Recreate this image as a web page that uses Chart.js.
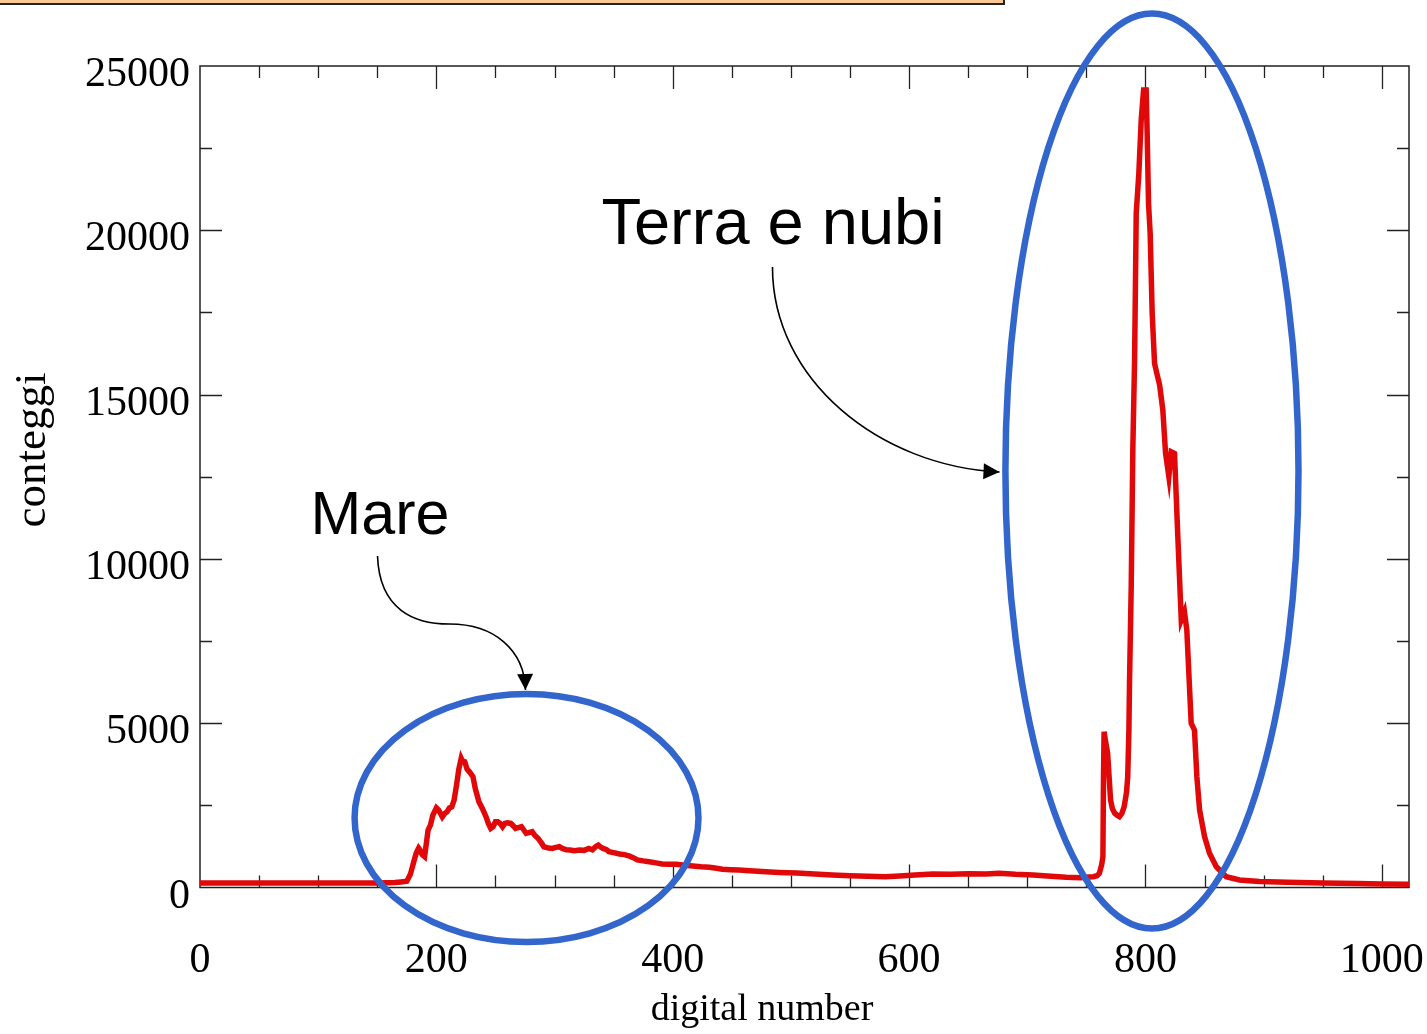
<!DOCTYPE html>
<html>
<head>
<meta charset="utf-8">
<script src="https://cdn.jsdelivr.net/npm/chart.js@4.4.0/dist/chart.umd.min.js"></script>
<style>
html, body { margin: 0; padding: 0; background: #fff; }
#wrap { position: relative; width: 1427px; height: 1034px; }
</style>
</head>
<body>
<div id="wrap"><canvas id="histo" width="1427" height="1034"></canvas></div>
<script>
// Histogram of the image: digital number (bin) vs counts
const digitalNumbers = [
    0, 50, 100, 150, 165, 170, 175, 178, 181, 183, 185, 186, 188, 190, 191, 193, 195, 197,
    200, 202, 205, 207, 209, 211, 213, 215, 217, 219, 221, 222, 224, 226, 228, 231, 233, 236,
    239, 242, 244, 246, 248, 250, 252, 254, 256, 258, 260, 263, 265, 267, 270, 272, 274, 276,
    279, 281, 283, 286, 289, 291, 295, 298, 301, 304, 307, 310, 313, 317, 321, 325, 329, 332,
    335, 337, 339, 341, 344, 346, 350, 355, 359, 363, 367, 370, 375, 380, 386, 391, 397, 403,
    410, 417, 424, 431, 437, 442, 449, 456, 465, 479, 490, 505, 520, 535, 550, 565, 580, 592,
    605, 620, 635, 650, 665, 676, 690, 705, 720, 733, 745, 752, 756, 759, 761, 763, 764, 764.5,
    765, 766, 768, 769, 770.5, 772, 774, 776, 778, 780, 782, 784, 785, 786, 786.5, 788, 789.3,
    790.8, 792.2, 794.4, 796.4, 798.4, 800.6, 801.5, 802.6, 804, 805.7, 807.7, 809.6, 812,
    814.7, 817, 819.8, 821.8, 824.6, 827.4, 830.3, 833, 835, 838.7, 841.5, 843.5, 845.8, 850,
    854.2, 860, 868.3, 879.6, 896.5, 920, 950, 980, 1000, 1023
];
const counts = [
    140, 140, 140, 140, 150, 170, 190, 400, 800, 1050, 1200, 1150, 1000, 940, 1200, 1750, 1900, 2200,
    2420, 2350, 2150, 2250, 2300, 2420, 2450, 2660, 3100, 3600, 3930, 3850, 3830, 3600, 3520, 3370, 3000, 2610,
    2400, 2155, 1950, 1800, 1850, 2000, 2000, 1950, 1850, 1950, 1970, 1950, 1880, 1800, 1830, 1850, 1750, 1650,
    1680, 1700, 1600, 1500, 1350, 1240, 1200, 1190, 1220, 1240, 1180, 1150, 1140, 1120, 1140, 1130, 1190, 1150,
    1250, 1290, 1230, 1190, 1150, 1090, 1060, 1020, 1000, 960, 900, 840, 810, 785, 750, 715, 710, 705,
    680, 655, 630, 615, 585, 555, 540, 530, 510, 480, 460, 440, 410, 380, 360, 345, 330, 350,
    380, 410, 400, 420, 410, 430, 400, 380, 340, 310, 300, 320, 330, 360, 430, 700, 940, 3370,
    4740, 4500, 4080, 3500, 2660, 2400, 2260, 2200, 2155, 2250, 2460, 2900, 3370, 4800, 6210, 9260, 13310,
    16050, 20520, 21730, 23350, 24270, 24270, 22850, 20820, 19900, 17470, 15950, 15650, 15290,
    14530, 13220, 12500, 13260, 13210, 10670, 8140, 8390, 7840, 5000, 4790, 3370, 2360, 1550,
    1040, 630, 330, 230, 180, 160, 140, 120, 110, 100
];

// Axis tick labels
const xTickValues = [0, 200, 400, 600, 800, 1000];
const yTickValues = [0, 5000, 10000, 15000, 20000, 25000];

const serif = "'Liberation Serif', 'Times New Roman', serif";
const sans = "'Liberation Sans', Arial, sans-serif";
const blue = '#3366cc';

// Annotation geometry in data units (digital number, counts)
const ellipses = [
    { dn: 276.3, count: 2115, rdn: 145.5, rcount: 3773 },
    { dn: 805.5, count: 12674, rdn: 124, rcount: 13922 }
];
const labels = [
    { text: 'Mare', dn: 93.5, count: 10772, size: 61 },
    { text: 'Terra e nubi', dn: 339.7, count: 19582, size: 65 }
];
// each arrow: start point followed by cubic segments [c1, c2, end]
const arrows = [
    [[150.2, 10088], [[151.9, 8444], [181.5, 8018], [211.1, 8018]], [[249.2, 8018], [274.6, 7227], [275.4, 6010]]],
    [[484.4, 18882], [[484.4, 15443], [574.9, 12826], [676.5, 12643]]]
];

// Frame around the plot with inward ticks on all four sides
const frameTicks = {
    id: 'frameTicks',
    beforeDatasetsDraw(chart) {
        const { ctx, chartArea: a, scales: { x, y } } = chart;
        ctx.save();
        ctx.strokeStyle = '#222';
        ctx.lineWidth = 1.5;
        ctx.strokeRect(a.left, a.top, a.right - a.left, a.bottom - a.top);
        ctx.lineWidth = 1.3;
        ctx.beginPath();
        for (let v = 50; v <= 1000; v += 50) {
            const px = Math.round(x.getPixelForValue(v)) + 0.5;
            const len = v % 200 === 0 ? 23 : 12;
            ctx.moveTo(px, a.bottom);
            ctx.lineTo(px, a.bottom - len);
            ctx.moveTo(px, a.top);
            ctx.lineTo(px, a.top + len);
        }
        for (let c = 2500; c < 25000; c += 2500) {
            const py = Math.round(y.getPixelForValue(c)) + 0.5;
            const len = c % 5000 === 0 ? 22 : 12;
            ctx.moveTo(a.left, py);
            ctx.lineTo(a.left + len, py);
            ctx.moveTo(a.right, py);
            ctx.lineTo(a.right - len, py);
        }
        ctx.stroke();
        ctx.restore();
    }
};

function drawArrowHead(ctx, fromX, fromY, toX, toY) {
    const ang = Math.atan2(toY - fromY, toX - fromX);
    const len = 16, half = 8;
    ctx.beginPath();
    ctx.moveTo(toX, toY);
    ctx.lineTo(toX - len * Math.cos(ang) + half * Math.sin(ang), toY - len * Math.sin(ang) - half * Math.cos(ang));
    ctx.lineTo(toX - len * Math.cos(ang) - half * Math.sin(ang), toY - len * Math.sin(ang) + half * Math.cos(ang));
    ctx.closePath();
    ctx.fill();
}

// Ellipses, labels, arrows, axis titles and the cut-off title box
const annotations = {
    id: 'annotations',
    afterDraw(chart) {
        const { ctx, chartArea: a, scales: { x, y } } = chart;
        const px = (v) => x.getPixelForValue(v);
        const py = (c) => y.getPixelForValue(c);
        ctx.save();

        // remains of the slide title box at the very top
        ctx.fillStyle = '#fcc792';
        ctx.fillRect(0, 0, 1004, 4);
        ctx.fillStyle = '#222';
        ctx.fillRect(0, 3, 1005, 2);
        ctx.fillRect(1003, 0, 2, 5);

        ctx.strokeStyle = blue;
        ctx.lineWidth = 6.5;
        ellipses.forEach(e => {
            const cx = px(e.dn), cy = py(e.count);
            const rx = Math.abs(px(e.dn + e.rdn) - cx);
            const ry = Math.abs(py(e.count + e.rcount) - cy);
            ctx.beginPath();
            ctx.ellipse(cx, cy, rx, ry, 0, 0, Math.PI * 2);
            ctx.stroke();
        });

        ctx.strokeStyle = '#000';
        ctx.fillStyle = '#000';
        ctx.lineWidth = 1.6;
        arrows.forEach(arrow => {
            const [start, ...segs] = arrow;
            ctx.beginPath();
            ctx.moveTo(px(start[0]), py(start[1]));
            segs.forEach(([c1, c2, end]) => {
                ctx.bezierCurveTo(px(c1[0]), py(c1[1]), px(c2[0]), py(c2[1]), px(end[0]), py(end[1]));
            });
            ctx.stroke();
            const [, c2, end] = segs[segs.length - 1];
            drawArrowHead(ctx, px(c2[0]), py(c2[1]), px(end[0]), py(end[1]));
        });

        ctx.textAlign = 'left';
        ctx.textBaseline = 'alphabetic';
        labels.forEach(l => {
            ctx.font = `${l.size}px ${sans}`;
            ctx.fillText(l.text, px(l.dn), py(l.count));
        });

        // axis titles
        ctx.font = `38px ${serif}`;
        ctx.textAlign = 'center';
        ctx.fillText('digital number', a.left + 562, 1020);
        ctx.translate(45, a.top + 384);
        ctx.rotate(-Math.PI / 2);
        ctx.font = `45px ${serif}`;
        ctx.fillText('conteggi', 0, 0);
        ctx.restore();
    }
};

const points = digitalNumbers.map((dn, i) => ({ x: dn, y: counts[i] }));

new Chart(document.getElementById('histo'), {
    type: 'line',
    data: {
        datasets: [{
            data: points,
            borderColor: '#e00808',
            borderWidth: 5.5,
            pointRadius: 0,
            tension: 0,
            fill: false
        }]
    },
    options: {
        responsive: false,
        animation: false,
        layout: { padding: { top: 66, right: 18, left: 0, bottom: 0 } },
        plugins: {
            legend: { display: false },
            tooltip: { enabled: false }
        },
        scales: {
            x: {
                type: 'linear',
                min: 0,
                max: 1023,
                grid: { display: false, drawTicks: false },
                border: { display: false },
                afterBuildTicks: (s) => { s.ticks = xTickValues.map(v => ({ value: v })); },
                afterFit: (s) => { s.height = 146.5; s.paddingLeft = 0; s.paddingRight = 0; },
                ticks: {
                    autoSkip: false,
                    maxRotation: 0,
                    minRotation: 0,
                    padding: 48,
                    color: '#000',
                    font: { family: serif, size: 42 },
                    callback: (v) => String(v)
                }
            },
            y: {
                min: 0,
                max: 25000,
                grid: { display: false, drawTicks: false },
                border: { display: false },
                afterBuildTicks: (s) => { s.ticks = yTickValues.map(v => ({ value: v })); },
                afterFit: (s) => { s.width = 200; s.paddingTop = 0; s.paddingBottom = 0; },
                ticks: {
                    padding: 10,
                    labelOffset: 9,
                    color: '#000',
                    font: { family: serif, size: 42 },
                    callback: (v) => String(v)
                }
            }
        }
    },
    plugins: [frameTicks, annotations]
});
</script>
</body>
</html>
